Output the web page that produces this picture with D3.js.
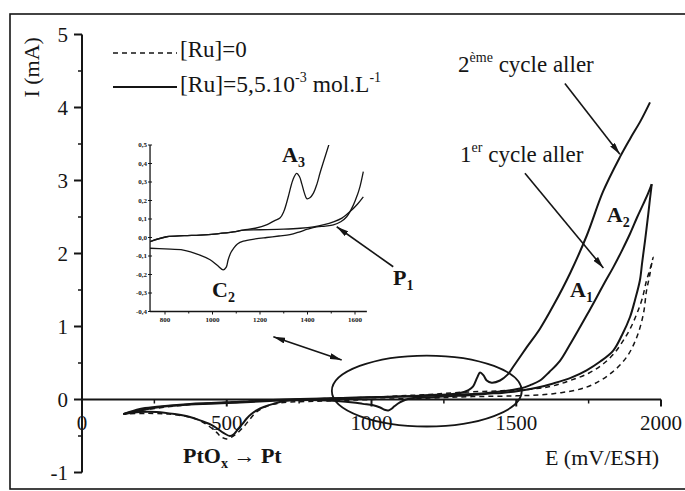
<!DOCTYPE html>
<html><head><meta charset="utf-8">
<script src="https://cdn.jsdelivr.net/npm/d3@7"></script>
<style>
html,body{margin:0;padding:0;background:#fff;}
svg{display:block;font-family:"Liberation Serif","Times New Roman",serif;}
</style></head><body>
<svg id="chart" width="685" height="491"></svg>
<script>
// ---- Main voltammogram: E (mV/ESH) and I (mA) ----
// [Ru]=0, one full cycle (forward then return)
const dashedE = [143,200,258,320,373,450,546,650,750,900,1000,1100,1200,1316,1450,1571,1630,1686,1750,1801,1840,1870,1895,1916,1935,1950,1963,1973,
                 1968,1960,1950,1939,1916,1881,1824,1743,1628,1500,1350,1200,1000,850,750,680,640,603,580,557,530,500,480,465,440,408,370,300,220,143];
const dashedI = [-0.20,-0.15,-0.12,-0.09,-0.07,-0.05,-0.03,-0.01,0.0,0.02,0.03,0.05,0.07,0.10,0.12,0.15,0.19,0.26,0.36,0.49,0.64,0.81,0.98,1.17,1.38,1.63,1.80,1.95,
                 1.86,1.68,1.49,1.17,0.85,0.58,0.35,0.17,0.08,0.05,0.04,0.02,0.0,-0.02,-0.03,-0.05,-0.09,-0.17,-0.27,-0.38,-0.48,-0.54,-0.51,-0.45,-0.37,-0.29,-0.24,-0.20,-0.19,-0.20];

// [Ru]=5,5.10-3 mol/L : 2nd cycle, forward scan
const cycle2E = [143,200,258,373,546,700,900,1100,1200,1260,1306,1335,1351,1365,1375,1387,1398,1415,1444,1470,1489,1537,1582,1630,1686,1744,1800,1858,1893,1930,1962];
const cycle2I = [-0.20,-0.13,-0.10,-0.06,-0.03,0.0,0.02,0.04,0.06,0.07,0.09,0.13,0.18,0.30,0.37,0.33,0.26,0.23,0.26,0.34,0.445,0.72,0.97,1.30,1.73,2.25,2.85,3.32,3.57,3.82,4.07];

// 1st cycle, forward scan
const cycle1E = [143,258,373,546,700,900,1100,1250,1400,1513,1550,1582,1615,1651,1685,1720,1750,1778,1805,1835,1865,1893,1918,1939,1955,1968];
const cycle1I = [-0.20,-0.11,-0.07,-0.04,-0.01,0.02,0.04,0.06,0.09,0.15,0.20,0.26,0.38,0.53,0.75,0.99,1.20,1.40,1.60,1.81,2.04,2.27,2.50,2.68,2.82,2.95];

// 1st cycle, return scan
const returnE = [1968,1962,1956,1945,1935,1927,1910,1893,1865,1835,1790,1743,1690,1628,1570,1513,1450,1400,1300,1200,1144,1120,1098,1080,1068,1058,1045,1030,1006,970,937,880,822,750,700,661,630,603,585,569,555,540,523,511,490,453,410,373,320,258,200,143];
const returnI = [2.95,2.75,2.54,2.18,1.88,1.63,1.36,1.13,0.88,0.67,0.52,0.40,0.30,0.22,0.16,0.12,0.09,0.08,0.05,0.03,0.02,0.0,-0.04,-0.09,-0.13,-0.15,-0.14,-0.11,-0.08,-0.06,-0.04,-0.02,-0.01,-0.01,-0.02,-0.06,-0.10,-0.15,-0.20,-0.26,-0.33,-0.40,-0.48,-0.50,-0.46,-0.36,-0.29,-0.24,-0.20,-0.17,-0.17,-0.20];

// ---- Inset: zoom on 740-1650 mV ----
const insetA3E = [737,807,880,947,1020,1088,1130,1180,1230,1260,1284,1300,1319,1338,1354,1366,1376,1387,1397,1410,1425,1440,1453,1470,1492];
const insetA3I = [-0.022,0.004,0.010,0.013,0.020,0.030,0.040,0.050,0.070,0.090,0.105,0.14,0.22,0.31,0.347,0.33,0.29,0.24,0.21,0.215,0.24,0.29,0.35,0.42,0.51];
const insetBaseE = [737,807,880,947,1020,1088,1130,1200,1300,1370,1425,1470,1509,1545,1579,1610,1635];
const insetBaseI = [-0.022,0.004,0.010,0.013,0.020,0.030,0.040,0.042,0.045,0.050,0.058,0.070,0.085,0.105,0.14,0.18,0.22];
const insetC2E = [737,800,877,947,990,1020,1045,1058,1066,1078,1088,1105,1130,1180,1228,1280,1326,1368,1400,1439,1475,1509,1540,1565,1593,1610,1621,1635];
const insetC2I = [-0.058,-0.062,-0.068,-0.095,-0.12,-0.15,-0.175,-0.16,-0.12,-0.08,-0.06,-0.035,-0.02,-0.008,0.0,0.008,0.015,0.031,0.045,0.058,0.062,0.068,0.085,0.112,0.175,0.23,0.275,0.356];

// ---- Axis ticks ----
const xMajor = [0,500,1000,1500,2000];
const xMinor = [250,750,1250,1750];
const yMajor = [-1,0,1,2,3,4,5];
const yMinor = [-0.5,0.5,1.5,2.5,3.5,4.5];
const insetXTicks = [800,1000,1200,1400,1600];
const insetXMinor = [900,1100,1300,1500];
const insetYTicks = [-0.4,-0.3,-0.2,-0.1,0.0,0.1,0.2,0.3,0.4,0.5];

const legendLabels = ["[Ru]=0", "[Ru]=5,5.10"];

const ink = "#151515";
const svg = d3.select("#chart");

// main scales
const x = d3.scaleLinear().domain([0, 2000]).range([82, 661]);
const y = d3.scaleLinear().domain([-1, 5]).range([472.5, 34.5]);
// inset scales
const xi = d3.scaleLinear().domain([800, 1600]).range([165, 355]);
const yi = d3.scaleLinear().domain([-0.4, 0.5]).range([311.5, 145]);

const defs = svg.append("defs");
defs.append("marker").attr("id", "head")
  .attr("viewBox", "0 0 12 6").attr("refX", 12).attr("refY", 3)
  .attr("markerWidth", 12).attr("markerHeight", 6)
  .attr("markerUnits", "userSpaceOnUse").attr("orient", "auto-start-reverse")
  .append("path").attr("d", "M0,0 L12,3 L0,6 Z").attr("fill", ink);
defs.append("clipPath").attr("id", "insetClip")
  .append("rect").attr("x", xi(737)).attr("y", yi(0.5)).attr("width", xi(1650) - xi(737)).attr("height", yi(-0.4) - yi(0.5));

// frame (its right edge runs past the page)
svg.append("rect").attr("x", 10).attr("y", 14).attr("width", 690).attr("height", 475)
  .attr("fill", "none").attr("stroke", ink).attr("stroke-width", 1.6);

const zip = (E, I) => E.map((e, k) => [e, I[k]]);
const lineMain = d3.line().x(d => x(d[0])).y(d => y(d[1])).curve(d3.curveCatmullRom.alpha(0.5));
const lineInset = d3.line().x(d => xi(d[0])).y(d => yi(d[1])).curve(d3.curveCatmullRom.alpha(0.5));

// ---- main axes ----
const ax = svg.append("g").attr("stroke", ink).attr("stroke-width", 2);
ax.append("line").attr("x1", x(0)).attr("x2", x(0)).attr("y1", y(-1)).attr("y2", y(5));
ax.append("line").attr("x1", x(0)).attr("x2", x(2000)).attr("y1", y(0)).attr("y2", y(0));
ax.selectAll(".ymaj").data(yMajor).join("line")
  .attr("x1", x(0) - 8).attr("x2", x(0)).attr("y1", d => y(d)).attr("y2", d => y(d));
ax.selectAll(".ymin").data(yMinor).join("line").attr("stroke-width", 1.5)
  .attr("x1", x(0) - 4).attr("x2", x(0)).attr("y1", d => y(d)).attr("y2", d => y(d));
ax.selectAll(".xmaj").data(xMajor.filter(d => d > 0)).join("line")
  .attr("x1", d => x(d)).attr("x2", d => x(d)).attr("y1", y(0)).attr("y2", y(0) + 7);
ax.selectAll(".xmin").data(xMinor).join("line").attr("stroke-width", 1.5)
  .attr("x1", d => x(d)).attr("x2", d => x(d)).attr("y1", y(0)).attr("y2", y(0) + 4);

svg.append("g").selectAll("text").data(yMajor).join("text")
  .attr("x", x(0) - 14).attr("y", d => y(d)).attr("dy", "0.34em")
  .attr("text-anchor", "end").attr("font-size", 21).attr("fill", ink).text(d => d);
svg.append("g").selectAll("text").data(xMajor).join("text")
  .attr("x", d => x(d)).attr("y", y(0) + 30)
  .attr("text-anchor", "middle").attr("font-size", 21).attr("fill", ink).text(d => d);

svg.append("text").attr("transform", `translate(39,${y(4.55)}) rotate(-90)`)
  .attr("text-anchor", "middle").attr("font-size", 22).attr("fill", ink).text("I (mA)");
svg.append("text").attr("x", x(1599)).attr("y", y(-0.9)).attr("font-size", 22).attr("fill", ink).text("E (mV/ESH)");

// ---- main curves ----
const curves = svg.append("g").attr("fill", "none").attr("stroke", ink).attr("stroke-linejoin", "round");
curves.append("path").attr("d", lineMain(zip(dashedE, dashedI)))
  .attr("stroke-width", 1.5).attr("stroke-dasharray", "5,4");
[[cycle1E, cycle1I], [cycle2E, cycle2I], [returnE, returnI]].forEach(([E, I]) => {
  curves.append("path").attr("d", lineMain(zip(E, I))).attr("stroke-width", 2);
});

// highlighted region and pointers
svg.append("ellipse").attr("cx", x(1191)).attr("cy", y(0.116))
  .attr("rx", x(1191 + 328) - x(1191)).attr("ry", y(0) - y(0.486))
  .attr("fill", "none").attr("stroke", ink).attr("stroke-width", 1.8);

const arrows = [
  {s: [661, 0.86], e: [897, 0.54], both: true},
  {s: [1668, 4.33], e: [1858, 3.36]},
  {s: [1530, 3.10], e: [1801, 1.80]}
];
arrows.forEach(a => {
  const l = svg.append("line").attr("x1", x(a.s[0])).attr("y1", y(a.s[1]))
    .attr("x2", x(a.e[0])).attr("y2", y(a.e[1]))
    .attr("stroke", ink).attr("stroke-width", 1.6).attr("marker-end", "url(#head)");
  if (a.both) l.attr("marker-start", "url(#head)");
});

// ---- legend ----
const leg = svg.append("g").attr("fill", ink);
leg.append("line").attr("x1", 113).attr("x2", 177).attr("y1", 53).attr("y2", 53)
  .attr("stroke", ink).attr("stroke-width", 1.5).attr("stroke-dasharray", "5,4");
leg.append("line").attr("x1", 113).attr("x2", 177).attr("y1", 87).attr("y2", 87)
  .attr("stroke", ink).attr("stroke-width", 2);
leg.append("text").attr("x", 180).attr("y", 57).attr("font-size", 23).text(legendLabels[0]);
const t2 = leg.append("text").attr("x", 180).attr("y", 92).attr("font-size", 23.5);
t2.append("tspan").text(legendLabels[1]);
t2.append("tspan").attr("font-size", 14).attr("dy", -10).text("-3");
t2.append("tspan").attr("dy", 10).text(" mol.L");
t2.append("tspan").attr("font-size", 14).attr("dy", -10).text("-1");

// ---- annotations ----
function supText(E, I, base, sup, rest) {
  const t = svg.append("text").attr("x", x(E)).attr("y", y(I)).attr("font-size", 23).attr("fill", ink);
  t.append("tspan").text(base);
  t.append("tspan").attr("font-size", 14).attr("dy", -10).text(sup);
  t.append("tspan").attr("dy", 10).text(rest);
}
supText(1299, 4.49, "2", "ème", " cycle aller");
supText(1306, 3.25, "1", "er", " cycle aller");

function subLabel(px, py, base, sub, size) {
  const t = svg.append("text").attr("x", px).attr("y", py).attr("font-size", size || 22)
    .attr("font-weight", "bold").attr("fill", ink);
  t.append("tspan").text(base);
  t.append("tspan").attr("font-size", 14).attr("dy", 5).text(sub);
  return t;
}
subLabel(x(1686), y(1.40), "A", "1");
subLabel(x(1813), y(2.43), "A", "2");
const pt = subLabel(x(349), y(-0.87), "PtO", "x");
pt.append("tspan").attr("dy", -5).attr("font-size", 22).text(" \u2192 Pt");

// ---- inset ----
const ins = svg.append("g");
const insAx = ins.append("g").attr("stroke", ink).attr("stroke-width", 1.3);
insAx.append("line").attr("x1", xi(737)).attr("x2", xi(737)).attr("y1", yi(-0.4)).attr("y2", yi(0.5));
insAx.append("line").attr("x1", xi(737)).attr("x2", xi(1650)).attr("y1", yi(-0.4)).attr("y2", yi(-0.4));
insAx.selectAll(".iy").data(insetYTicks).join("line")
  .attr("x1", xi(737) - 2).attr("x2", xi(737) + 2).attr("y1", d => yi(d)).attr("y2", d => yi(d)).attr("stroke-width", 1);
insAx.selectAll(".ix").data(insetXTicks).join("line")
  .attr("x1", d => xi(d)).attr("x2", d => xi(d)).attr("y1", yi(-0.4)).attr("y2", yi(-0.4) + 3).attr("stroke-width", 1);
insAx.selectAll(".ixm").data(insetXMinor).join("line")
  .attr("x1", d => xi(d)).attr("x2", d => xi(d)).attr("y1", yi(-0.4)).attr("y2", yi(-0.4) + 2).attr("stroke-width", 1);
const fmtComma = d => d3.format(".1f")(d).replace(".", ",").replace("\u2212", "-");
ins.selectAll(".iyl").data(insetYTicks).join("text")
  .attr("x", xi(737) - 3).attr("y", d => yi(d)).attr("dy", "0.33em")
  .attr("text-anchor", "end").attr("font-size", 7).attr("font-weight", "bold").attr("fill", ink)
  .text(fmtComma);
ins.selectAll(".ixl").data(insetXTicks).join("text")
  .attr("x", d => xi(d)).attr("y", yi(-0.4) + 10)
  .attr("text-anchor", "middle").attr("font-size", 7).attr("font-weight", "bold").attr("fill", ink)
  .text(d => d);

const insCurves = ins.append("g").attr("clip-path", "url(#insetClip)")
  .attr("fill", "none").attr("stroke", ink).attr("stroke-width", 1.3);
[[insetA3E, insetA3I], [insetBaseE, insetBaseI], [insetC2E, insetC2I]].forEach(([E, I]) => {
  insCurves.append("path").attr("d", lineInset(zip(E, I)));
});

// inset pointer and labels
ins.append("line").attr("x1", xi(1761)).attr("y1", yi(-0.158)).attr("x2", xi(1523)).attr("y2", yi(0.058))
  .attr("stroke", ink).attr("stroke-width", 1.6).attr("marker-end", "url(#head)");
subLabel(xi(1293), yi(0.408), "A", "3");
subLabel(xi(998), yi(-0.32), "C", "2");
subLabel(xi(1760), yi(-0.257), "P", "1");
</script>
</body></html>
